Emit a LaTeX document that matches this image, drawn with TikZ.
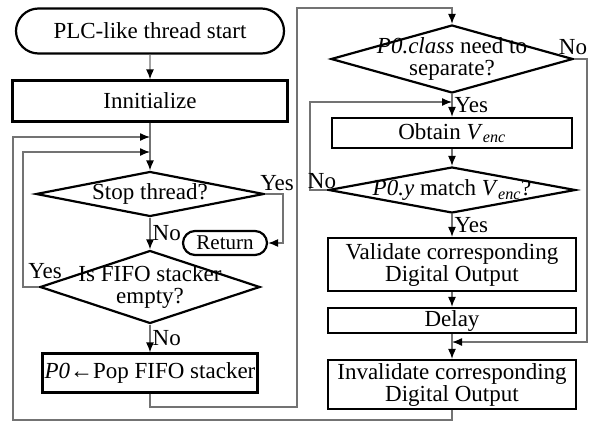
\documentclass[tikz,border=0pt]{standalone}
\usepackage{fontspec}
\setmainfont{Liberation Serif}
\usetikzlibrary{shapes.geometric,shapes.misc,arrows.meta}
\begin{document}
\begin{tikzpicture}[x=1pt,y=-1pt]
		\tikzset{block/.style = {shape=rectangle,draw,line width=2.2pt,inner sep=0pt,align=center}}
		\tikzset{term/.style = {shape=rounded rectangle,draw,line width=2.2pt,inner sep=0pt}}
		\tikzset{decision/.style = {shape=diamond,draw,line width=2.2pt,inner sep=0pt}}
		\tikzset{flow/.style = {->,> = {Latex[length=10pt,width=8pt,color=black]},draw=black!55,line width=1.3pt}}
		\tikzset{every node/.style = {font=\fontsize{23}{22}\selectfont}}
		\useasboundingbox (0,0) rectangle (589,423);
		% left column
		\node[term,minimum width=268,minimum height=45] (start) at (150,31) {PLC-like thread start};
		\node[block,minimum width=275,minimum height=41] (init) at (150,101) {Innitialize};
		\node[decision,minimum width=228,minimum height=45,label={center:Stop thread?}] (stop) at (150,194) {};
		\node[term,minimum width=84,minimum height=24,font=\fontsize{21}{22}\selectfont] (ret) at (225,243) {Return};
		\node[decision,minimum width=220,minimum height=73,label={[align=center]center:Is FIFO stacker\\empty?}] (fifo) at (150,287) {};
		\node[block,minimum width=215,minimum height=39] (pop) at (150,373) {\textit{P0}←Pop FIFO stacker};
		% right column
		\node[decision,minimum width=242,minimum height=68,label={[align=center]center:\textit{P0.class} need to\\separate?}] (sep) at (452,59) {};
		\node[block,minimum width=240,minimum height=30] (enc) at (452,133) {Obtain \textit{V}\textsubscript{\textit{enc}}};
		\node[decision,minimum width=247,minimum height=46,label={center:\textit{P0.y} match \textit{V}\textsubscript{\textit{enc}}?}] (match) at (452,190) {};
		\node[block,minimum width=248,minimum height=53] (valid) at (452,264.5) {Validate corresponding\\Digital Output};
		\node[block,minimum width=248,minimum height=25] (delay) at (452,320.5) {Delay};
		\node[block,minimum width=248,minimum height=49] (inval) at (452,384.5) {Invalidate corresponding\\Digital Output};
		% bends and joins
		\coordinate (m1) at (150,137);
		\coordinate (m2) at (150,152);
		\coordinate (l1) at (13,137);
		\coordinate (l2) at (23,152);
		\coordinate (sy) at (283,194);
		\coordinate (p2) at (297,407);
		\coordinate (p3) at (297,8);
		\coordinate (r1) at (587,342);
		\coordinate (j1) at (452,342);
		\coordinate (l3) at (310,102);
		\coordinate (m3) at (452,102);
		\coordinate (o2) at (13,420);
		% connectors
		\path[flow] (start) edge (init);
		\path[flow] (init) edge (stop);
		\path[flow] (stop.east) -- (sy) |- (ret.east);
		\node (yes1) at (277,183) {Yes};
		\path[flow] (stop) edge node[right,inner sep=2pt] {No} (fifo);
		\path[flow] (fifo.west) -| (l2) -- (m2);
		\node (yes2) at (45,271) {Yes};
		\path[flow] (fifo) edge node[right,inner sep=2pt] {No} (pop);
		\path[flow] (pop.south) |- (p2) -- (p3) -| (sep.north);
		\path[flow] (sep.east) -| (r1) -- (j1);
		\node (no3) at (573,47) {No};
		\path[flow] (sep) edge node[right,inner sep=2pt] {Yes} (enc);
		\path[flow] (enc) edge (match);
		\path[flow] (match.west) -| (l3) -- (m3);
		\node (no4) at (322,181) {No};
		\path[flow] (match) edge node[right,inner sep=2pt] {Yes} (valid);
		\path[flow] (valid) edge (delay);
		\path[flow] (delay) edge (inval);
		\path[flow] (inval.south) |- (o2) -- (l1) -- (m1);
	\end{tikzpicture}
\end{document}
